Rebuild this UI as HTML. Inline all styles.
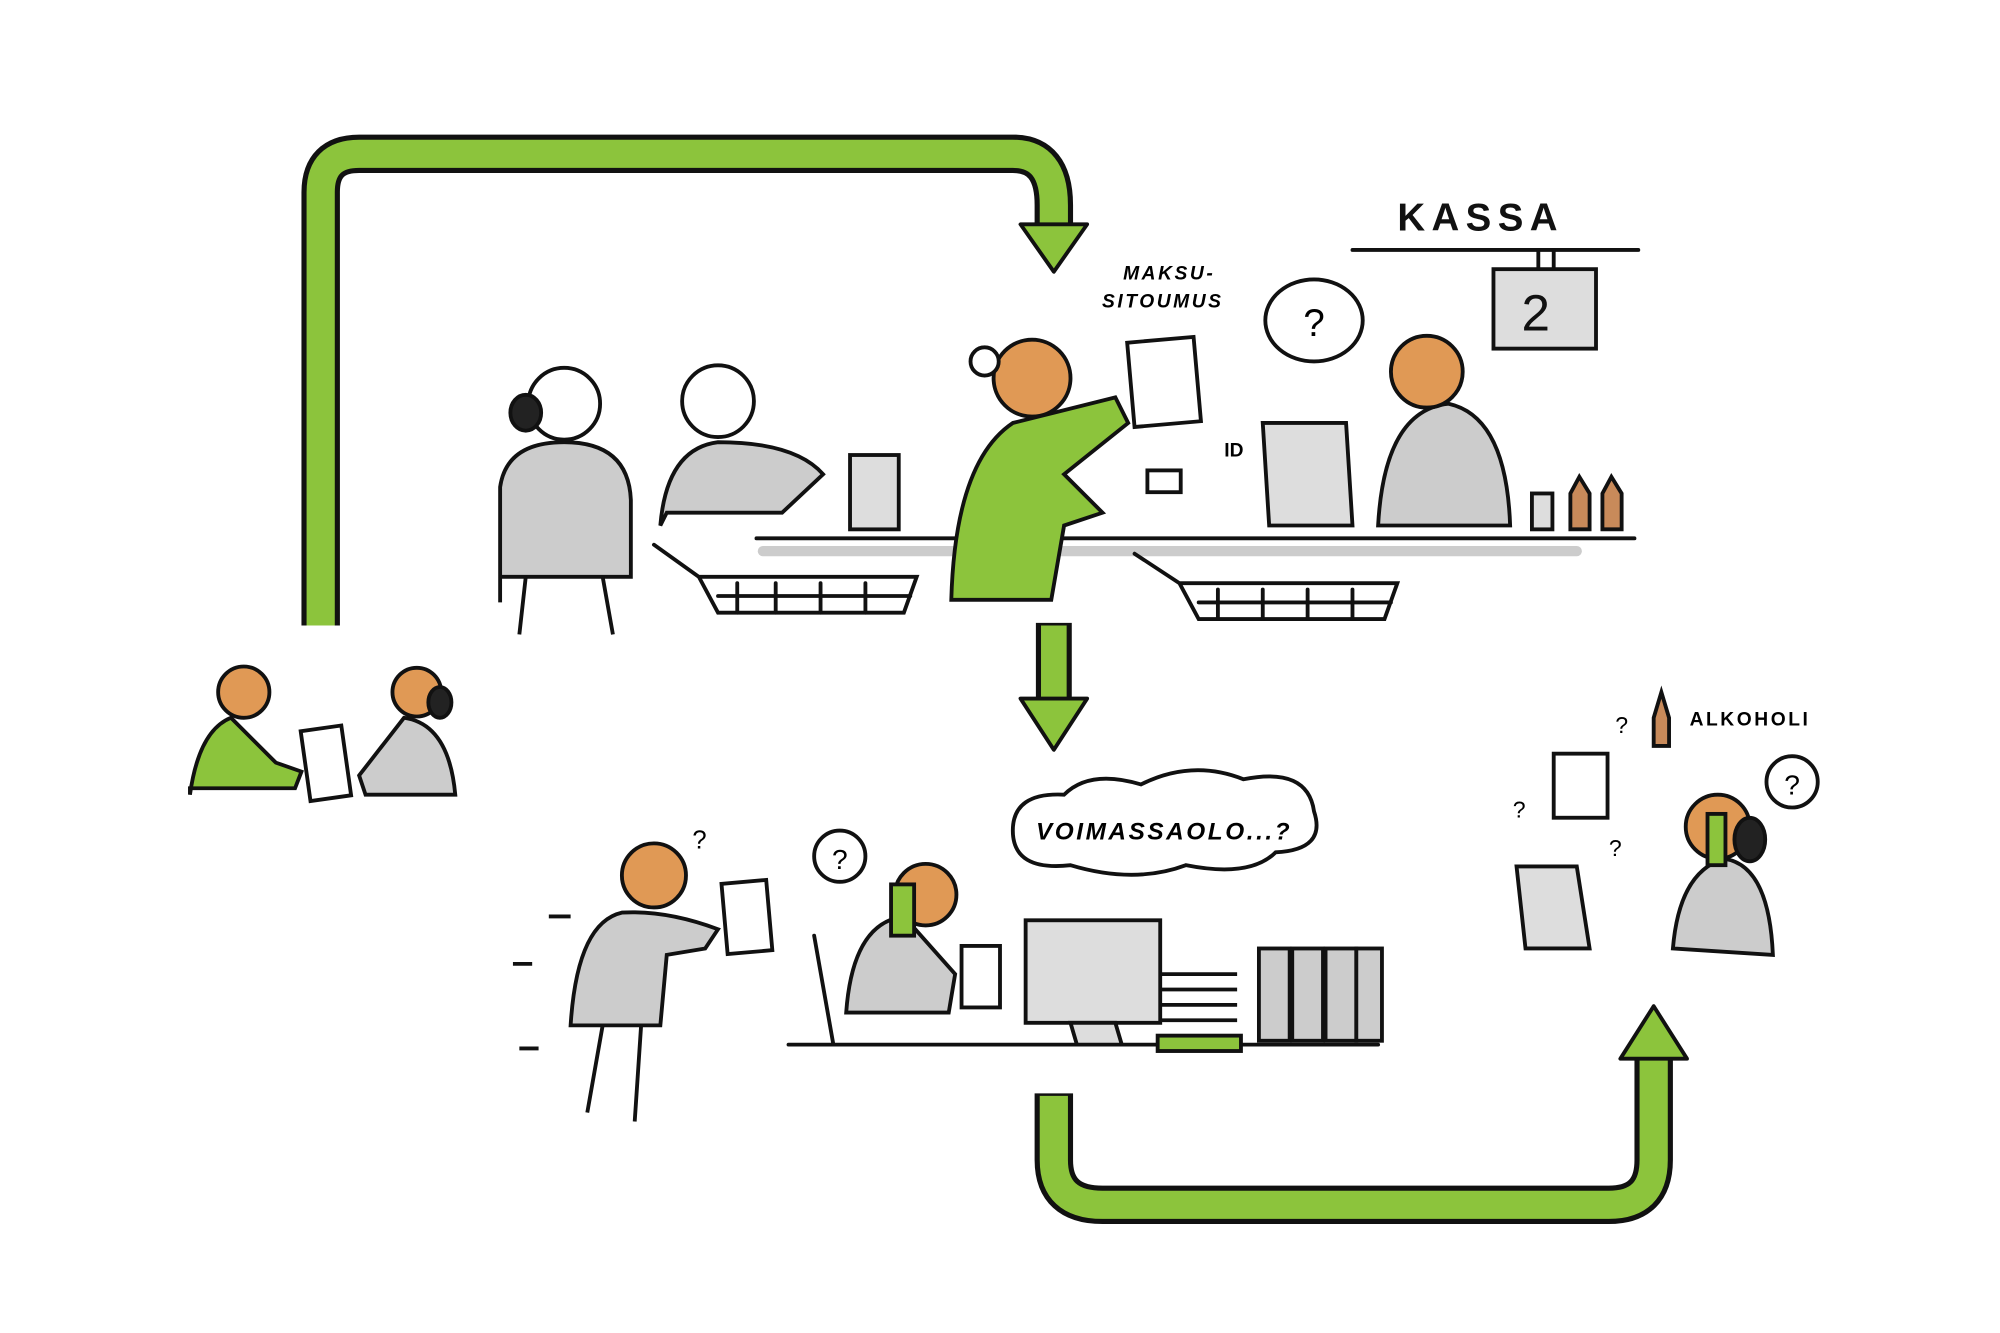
<!DOCTYPE html>
<html><head><meta charset="utf-8"><style>html,body{margin:0;padding:0;background:#fff}svg{display:block}</style></head>
<body>
<svg width="2000" height="1333" viewBox="0 0 1560 1040" xmlns="http://www.w3.org/2000/svg" font-family="Liberation Sans, sans-serif">
<rect width="1560" height="1040" fill="#fff"/>
<g fill="none" stroke-linecap="butt" stroke-linejoin="round">
 <!-- top arrow -->
 <path d="M250 488 V150 Q250 120 280 120 H790 Q822 120 822 160 V180" stroke="#111" stroke-width="30"/>
 <path d="M250 488 V150 Q250 120 280 120 H790 Q822 120 822 160 V182" stroke="#8cc43c" stroke-width="22"/>
 <!-- middle down -->
 <path d="M822 486 V545" stroke="#111" stroke-width="28"/>
 <path d="M822 488 V547" stroke="#8cc43c" stroke-width="20"/>
 <!-- bottom arrow -->
 <path d="M822 853 V905 Q822 940 860 940 H1255 Q1290 940 1290 905 V825" stroke="#111" stroke-width="30"/>
 <path d="M822 855 V905 Q822 940 860 940 H1255 Q1290 940 1290 905 V823" stroke="#8cc43c" stroke-width="22"/>
</g>
<polygon points="796,175 848,175 822,212" fill="#8cc43c" stroke="#111" stroke-width="3" stroke-linejoin="round"/>
<polygon points="796,545 848,545 822,585" fill="#8cc43c" stroke="#111" stroke-width="3" stroke-linejoin="round"/>
<polygon points="1264,826 1316,826 1290,785" fill="#8cc43c" stroke="#111" stroke-width="3" stroke-linejoin="round"/>

<g stroke="#111" stroke-width="3" fill="none" stroke-linecap="round">
 <!-- counter -->
 <path d="M590 420 H1275"/><path d="M595 430 H1230" stroke="#ccc" stroke-width="8"/>
 <path d="M1055 195 H1278"/><path d="M1200 195 V210 M1212 195 V210"/>
 <!-- carts -->
 <path d="M510 425 L545 450 H715 L705 478 H560 L545 450"/><path d="M575 455 V478 M605 455 V478 M640 455 V478 M675 455 V478 M560 465 H710"/>
 <path d="M885 432 L920 455 H1090 L1080 483 H935 L920 455"/><path d="M950 460 V483 M985 460 V483 M1020 460 V483 M1055 460 V483 M935 470 H1085"/>
 <!-- desk bottom -->
 <path d="M615 815 H1075"/><path d="M635 730 L650 815"/>
</g>
<!-- kassa sign -->
<rect x="1165" y="210" width="80" height="62" fill="#ddd" stroke="#111" stroke-width="3"/>
<text x="1198" y="258" font-size="40" text-anchor="middle" fill="#111">2</text>
<text x="1155" y="180" font-size="30" text-anchor="middle" fill="#111" letter-spacing="5" font-weight="bold">KASSA</text>
<text x="912" y="218" font-size="15" text-anchor="middle" font-weight="bold" font-style="italic" letter-spacing="2">MAKSU-</text>
<text x="907" y="240" font-size="15" text-anchor="middle" font-weight="bold" font-style="italic" letter-spacing="2">SITOUMUS</text>
<text x="955" y="356" font-size="15" font-weight="bold">ID</text>
<!-- speech bubbles -->
<ellipse cx="1025" cy="250" rx="38" ry="32" fill="#fff" stroke="#111" stroke-width="3"/>
<text x="1025" y="262" font-size="30" text-anchor="middle">?</text>
<path d="M790 648 q0-30 40-28 q20-20 60-8 q40-20 80-4 q50-10 55 25 q10 30-30 32 q-20 20-70 10 q-40 15-90 0 q-45 5-45-27z" fill="#fff" stroke="#111" stroke-width="3"/>
<text x="908" y="655" font-size="19" text-anchor="middle" font-weight="bold" font-style="italic" letter-spacing="2">VOIMASSAOLO...?</text>
<circle cx="655" cy="668" r="20" fill="#fff" stroke="#111" stroke-width="3"/><text x="655" y="678" font-size="22" text-anchor="middle">?</text>
<circle cx="1398" cy="610" r="20" fill="#fff" stroke="#111" stroke-width="3"/><text x="1398" y="620" font-size="22" text-anchor="middle">?</text>
<text x="1318" y="566" font-size="15" font-weight="bold" letter-spacing="2">ALKOHOLI</text>
<text x="1260" y="572" font-size="18">?</text><text x="1180" y="638" font-size="18">?</text><text x="1255" y="668" font-size="18">?</text><text x="540" y="662" font-size="20">?</text>

<!-- people: grey bodies -->
<g stroke="#111" stroke-width="3">
 <path d="M390 470 V380 Q395 345 440 345 Q490 345 492 390 V450 H390z" fill="#ccc"/>
 <circle cx="440" cy="315" r="28" fill="#fff"/><ellipse cx="410" cy="322" rx="12" ry="14" fill="#222"/>
 <path d="M410 450 L405 495 M470 450 L478 495" fill="none"/>
 <path d="M515 410 Q520 350 560 345 Q620 345 642 370 L610 400 H520z" fill="#ccc"/>
 <circle cx="560" cy="313" r="28" fill="#fff"/>
 <rect x="663" y="355" width="38" height="58" fill="#ddd"/>
 <path d="M742 468 Q745 360 790 330 L870 310 L880 330 L830 370 L860 400 L830 410 L820 468z" fill="#8cc43c"/>
 <circle cx="805" cy="295" r="30" fill="#e09955"/><circle cx="768" cy="282" r="11" fill="#fff"/>
 <rect x="882" y="265" width="52" height="66" fill="#fff" transform="rotate(-5 908 298)"/>
 <rect x="895" y="367" width="26" height="17" fill="#fff"/>
 <path d="M985 330 H1050 L1055 410 H990z" fill="#ddd"/>
 <path d="M1075 410 Q1080 320 1130 315 Q1175 325 1178 410z" fill="#ccc"/>
 <circle cx="1113" cy="290" r="28" fill="#e09955"/>
 <rect x="1195" y="385" width="16" height="28" fill="#ddd"/>
 <path d="M1225 413 V385 L1232 372 L1240 385 V413z M1250 413 V385 L1257 372 L1265 385 V413z" fill="#c88a5a"/>
 <!-- small left pair -->
 <path d="M148 620 Q155 570 180 560 L215 595 L235 602 L230 615 H148z" fill="#8cc43c"/>
 <circle cx="190" cy="540" r="20" fill="#e09955"/>
 <rect x="238" y="568" width="32" height="55" fill="#fff" transform="rotate(-8 254 595)"/>
 <path d="M280 605 L315 560 Q350 565 355 620 H285z" fill="#ccc"/>
 <circle cx="325" cy="540" r="19" fill="#e09955"/><ellipse cx="343" cy="548" rx="9" ry="12" fill="#222"/>
 <!-- walking man -->
 <path d="M445 800 Q450 720 485 712 Q520 710 560 725 L550 740 L520 745 L515 800z" fill="#ccc"/>
 <circle cx="510" cy="683" r="25" fill="#e09955"/>
 <path d="M470 800 L458 868 M500 800 L495 875" fill="none"/>
 <rect x="565" y="688" width="35" height="55" fill="#fff" transform="rotate(-5 582 715)"/>
 <path d="M400 752 H415 M428 715 H445 M405 818 H420" fill="none"/>
 <!-- office -->
 <path d="M660 790 Q665 720 705 715 L745 760 L740 790z" fill="#ccc"/>
 <circle cx="722" cy="698" r="24" fill="#e09955"/>
 <rect x="695" y="690" width="18" height="40" fill="#8cc43c"/>
 <rect x="750" y="738" width="30" height="48" fill="#fff"/>
 <rect x="800" y="718" width="105" height="80" fill="#ddd"/>
 <path d="M835 798 L840 815 H875 L870 798z" fill="#ddd"/>
 <path d="M905 760 H965 M905 772 H965 M905 784 H965 M905 796 H965" fill="none"/>
 <rect x="903" y="808" width="65" height="12" fill="#8cc43c"/>
 <rect x="982" y="740" width="24" height="72" fill="#ccc"/><rect x="1008" y="740" width="24" height="72" fill="#ccc"/><rect x="1034" y="740" width="24" height="72" fill="#ccc"/><rect x="1058" y="740" width="20" height="72" fill="#ccc"/>
 <!-- right person -->
 <path d="M1183 676 H1230 L1240 740 H1190z" fill="#ddd"/>
 <path d="M1305 740 Q1310 680 1345 670 Q1380 675 1383 745z" fill="#ccc"/>
 <circle cx="1340" cy="645" r="25" fill="#e09955"/><ellipse cx="1365" cy="655" rx="12" ry="17" fill="#222"/>
 <rect x="1332" y="635" width="14" height="40" fill="#8cc43c"/>
 <rect x="1212" y="588" width="42" height="50" fill="#fff"/>
 <path d="M1290 582 V560 L1296 540 L1302 560 V582z" fill="#c88a5a"/>
</g>
</svg>
</body></html>
